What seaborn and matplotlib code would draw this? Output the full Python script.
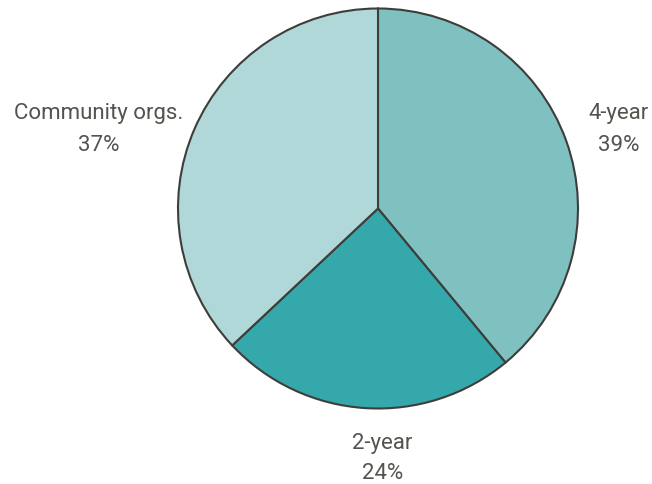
import matplotlib
matplotlib.use("Agg")
import matplotlib.pyplot as plt
import seaborn as sns

# Share of programs by institution type
categories = ["4-year", "2-year", "Community orgs."]
shares = [39, 24, 37]
colors = ["#7fc0c1", "#35a8ab", "#b0d8d9"]

sns.set_theme(style="white")
plt.rcParams["font.family"] = ["Roboto", "DejaVu Sans"]

fig = plt.figure(figsize=(6.52, 4.85), dpi=100)
W, H = 652, 485
cx, cy, r = 378.0, 209.5, 200.0   # pie centre and radius in pixels
lim = 1.01
ax = fig.add_axes([(cx - r * lim) / W, (H - cy - r * lim) / H,
                   2 * r * lim / W, 2 * r * lim / H])

wedges, _ = ax.pie(
    shares,
    colors=colors,
    startangle=90,
    counterclock=False,
    wedgeprops=dict(edgecolor="#3d3d3a", linewidth=1.5),
)
ax.set_xlim(-lim, lim)
ax.set_ylim(-lim, lim)
ax.axis("off")

# label anchor: (x centre, baseline of name line, baseline of percent line)
label_pos = [(1.205, 0.4525, 0.2925),
             (0.0225, -1.2, -1.3475),
             (-1.3975, 0.4525, 0.2925)]
style = dict(ha="center", va="baseline", fontsize=16, color="#54544e",
             clip_on=False)
for name, val, (x, y1, y2) in zip(categories, shares, label_pos):
    ax.text(x, y1, name, **style)
    ax.text(x, y2, f"{val}%", **style)

fig.savefig("out.png", dpi=100)
